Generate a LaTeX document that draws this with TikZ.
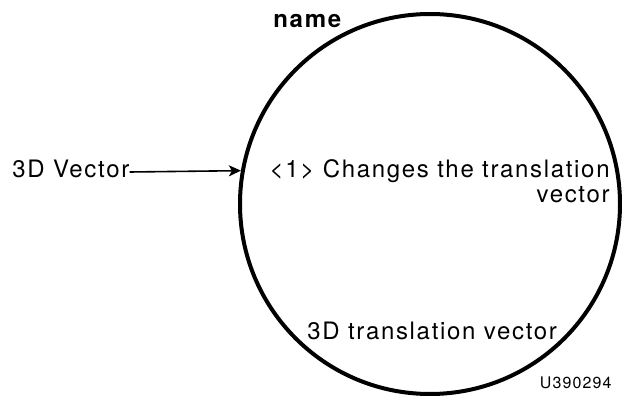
\documentclass[tikz,border=0pt]{standalone}
\usepackage{fontspec}
\setmainfont{TeX Gyre Heros}[LetterSpace=7]
\usetikzlibrary{arrows.meta, positioning}

\begin{document}
\begin{tikzpicture}[
  x=0.5pt, y=-0.5pt,
  proc/.style={circle, draw, line width=2pt, minimum size=190pt, inner sep=0pt},
  lbl/.style={font=\fontsize{12}{12.5}\selectfont, inner sep=0pt, align=#1},
  lbl/.default=left,
  arr/.style={-{Stealth[length=6pt, width=5.5pt, inset=1.5pt]}, line width=0.8pt},
]
  \useasboundingbox (0,0) rectangle (622,396);

  % process bubble
  \node[proc] (bubble) at (430,204) {};
  \node[lbl, font=\fontsize{12}{12.5}\selectfont\bfseries, anchor=base west] (name) at (273,27) {name};

  % input flow
  \node[lbl, anchor=base west] (vec) at (12,177) {3D Vector};
  \draw[arr] ([yshift=2.5pt]vec.base east) -- (bubble.170);

  % bubble contents
  \node[lbl=right, anchor=base east] (chg) at (610,202) {<1> Changes the translation\\vector};
  \node[lbl, anchor=base west] (trans) at (307,339) {3D translation vector};

  % figure id
  \node[font=\fontsize{8}{9}\selectfont, inner sep=0pt, anchor=base east] (fig) at (612,388) {U390294};
\end{tikzpicture}
\end{document}
